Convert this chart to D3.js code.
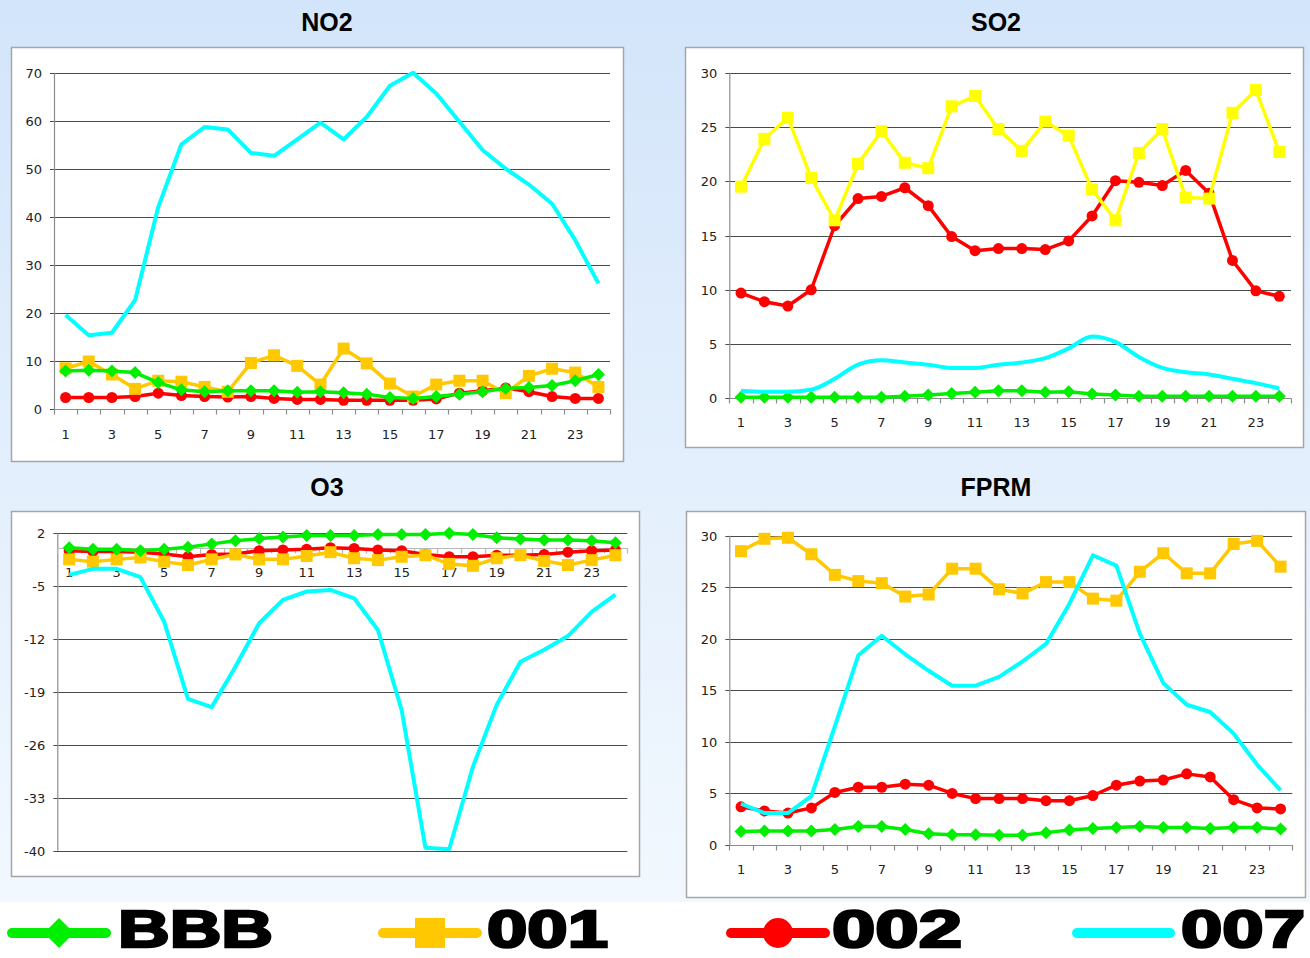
<!DOCTYPE html>
<html>
<head>
<meta charset="utf-8">
<script src="https://cdn.jsdelivr.net/npm/d3@7"></script>
<style>
  html, body { margin: 0; padding: 0; background: #fff; }
  svg { display: block; }
</style>
</head>
<body>
<svg id="chart" width="1310" height="958"></svg>
<script>
// Hourly categories shared by all four panels
const hours = [1,2,3,4,5,6,7,8,9,10,11,12,13,14,15,16,17,18,19,20,21,22,23,24];
const hourLabels = [1,3,5,7,9,11,13,15,17,19,21,23];

// NO2
const no2_BBB = [7.9,8.1,7.9,7.6,5.5,4.0,3.6,3.8,3.8,3.8,3.5,3.6,3.4,3.1,2.4,2.2,2.6,3.1,3.6,4.3,4.5,4.9,5.9,7.2];
const no2_001 = [8.5,9.9,7.2,4.2,5.9,5.7,4.6,3.6,9.6,11.2,9.0,5.1,12.6,9.5,5.3,2.6,5.1,5.9,5.9,3.3,6.9,8.4,7.6,4.6];
const no2_002 = [2.4,2.4,2.4,2.6,3.3,2.8,2.6,2.5,2.6,2.2,2.0,2.0,1.8,1.8,1.8,1.8,2.1,3.3,3.8,4.4,3.6,2.6,2.2,2.2];
const no2_007 = [19.6,15.4,15.9,22.7,42.1,55.2,58.8,58.3,53.4,52.8,56.2,59.7,56.2,60.9,67.4,70.1,65.8,59.9,54.0,50.1,46.8,42.8,35.2,26.2];
const no2_ticks = [0,10,20,30,40,50,60,70];

// SO2
const so2_BBB = [0.1,0.1,0.1,0.1,0.1,0.1,0.1,0.2,0.3,0.45,0.55,0.7,0.7,0.55,0.6,0.4,0.3,0.2,0.2,0.2,0.2,0.2,0.2,0.2];
const so2_001 = [19.5,23.9,25.85,20.3,16.4,21.6,24.6,21.7,21.2,26.9,27.85,24.8,22.8,25.5,24.2,19.25,16.4,22.6,24.8,18.5,18.4,26.3,28.4,22.7];
const so2_002 = [9.7,8.9,8.5,10.0,15.9,18.4,18.6,19.4,17.75,14.9,13.6,13.8,13.8,13.7,14.5,16.8,20.05,19.9,19.6,21.0,18.9,12.7,9.9,9.4];
const so2_007 = [0.7,0.6,0.6,0.8,1.8,3.1,3.5,3.3,3.1,2.8,2.8,3.1,3.3,3.7,4.6,5.7,5.2,3.8,2.8,2.4,2.2,1.8,1.4,0.9];
const so2_ticks = [0,5,10,15,20,25,30];

// O3
const o3_BBB = [0.1,-0.1,-0.1,-0.3,-0.1,0.15,0.6,1.0,1.3,1.5,1.7,1.7,1.7,1.85,1.85,1.85,2.0,1.85,1.4,1.25,1.1,1.1,1.0,0.75];
const o3_001 = [-1.45,-1.75,-1.45,-1.2,-1.75,-2.2,-1.45,-0.8,-1.45,-1.45,-1.0,-0.5,-1.3,-1.55,-1.1,-0.9,-2.05,-2.3,-1.3,-0.9,-1.65,-2.2,-1.55,-0.9];
const o3_002 = [-0.3,-0.4,-0.4,-0.5,-0.75,-1.1,-0.8,-0.75,-0.3,-0.2,-0.1,0.1,0.0,-0.2,-0.3,-0.8,-1.1,-1.1,-0.9,-0.9,-0.8,-0.5,-0.3,-0.2];
const o3_007 = [-3.5,-2.7,-2.7,-3.8,-9.7,-19.9,-21.0,-15.65,-9.9,-6.8,-5.7,-5.5,-6.6,-10.8,-21.4,-39.6,-39.8,-28.9,-20.7,-15.0,-13.4,-11.6,-8.4,-6.1];
const o3_ticks = [2,-5,-12,-19,-26,-33,-40];

// FPRM
const fprm_BBB = [1.3,1.35,1.35,1.35,1.5,1.8,1.8,1.5,1.1,1.0,1.0,0.95,0.95,1.2,1.45,1.6,1.7,1.8,1.7,1.7,1.6,1.7,1.7,1.55];
const fprm_001 = [28.5,29.7,29.8,28.2,26.2,25.6,25.4,24.1,24.3,26.8,26.8,24.8,24.4,25.5,25.5,23.9,23.7,26.5,28.3,26.35,26.35,29.2,29.5,27.0];
const fprm_002 = [3.7,3.3,3.1,3.6,5.1,5.6,5.6,5.9,5.8,5.0,4.5,4.5,4.5,4.3,4.3,4.8,5.8,6.2,6.3,6.9,6.6,4.4,3.6,3.5];
const fprm_007 = [4.0,3.1,3.1,4.75,11.5,18.4,20.3,18.5,16.9,15.45,15.45,16.3,17.8,19.5,23.4,28.1,27.1,20.5,15.7,13.6,12.9,10.8,7.8,5.3];
const fprm_ticks = [0,5,10,15,20,25,30];

// Series names and colours
const seriesNames = ["BBB", "001", "002", "007"];
const colors = { BBB: "#00ee00", "001": "#ffc800", "002": "#ff0000", "007": "#00ffff" };
const so2Yellow = "#ffff00";

const svg = d3.select("#chart");

// Background: pale blue wash, white strip under the legend
const defs = svg.append("defs");
const grad = defs.append("linearGradient").attr("id", "bg").attr("x1", 0).attr("y1", 0).attr("x2", 0).attr("y2", 1);
grad.append("stop").attr("offset", "0%").attr("stop-color", "#d3e5fa");
grad.append("stop").attr("offset", "100%").attr("stop-color", "#f2f8fe");
svg.append("rect").attr("width", 1310).attr("height", 902).attr("fill", "url(#bg)");
svg.append("rect").attr("y", 902).attr("width", 1310).attr("height", 56).attr("fill", "#ffffff");

// Marker shapes
function markerPath(kind, s) {
  const h = s / 2;
  if (kind === "diamond") return `M0,${-h}L${h},0L0,${h}L${-h},0Z`;
  if (kind === "square") return `M${-h},${-h}H${h}V${h}H${-h}Z`;
  if (kind === "circle") return `M${-h},0A${h},${h} 0 1,0 ${h},0A${h},${h} 0 1,0 ${-h},0Z`;
  return null;
}
const markerKind = { BBB: "diamond", "001": "square", "002": "circle", "007": null };
const markerSize = { BBB: 13, "001": 12, "002": 11 };

const panels = [
  { title: "NO2", tx: 327, ty: 31, box: [11, 47, 623, 461], px: [54, 610], py: [409, 73.3],
    domain: [0, 70], ticks: no2_ticks, axisAt: 0, labelY: 439,
    data: { BBB: no2_BBB, "001": no2_001, "002": no2_002, "007": no2_007 } },
  { title: "SO2", tx: 996, ty: 31, box: [685, 47, 1303, 447], px: [729.3, 1291], py: [398.3, 72.7],
    domain: [0, 30], ticks: so2_ticks, axisAt: 0, labelY: 427, smooth007: true, yellow001: true,
    data: { BBB: so2_BBB, "001": so2_001, "002": so2_002, "007": so2_007 } },
  { title: "O3", tx: 327, ty: 496, box: [11, 511, 639, 876], px: [57.3, 627.3], py: [850.7, 533.3],
    domain: [-40, 2], ticks: o3_ticks, axisAt: 0, labelY: 577, lightAxis: true,
    data: { BBB: o3_BBB, "001": o3_001, "002": o3_002, "007": o3_007 } },
  { title: "FPRM", tx: 996, ty: 496, box: [686, 511, 1305, 897], px: [729.3, 1292.3], py: [845, 535.7],
    domain: [0, 30], ticks: fprm_ticks, axisAt: 0, labelY: 874,
    data: { BBB: fprm_BBB, "001": fprm_001, "002": fprm_002, "007": fprm_007 } }
];

const labelFont = "'DejaVu Sans', Verdana, sans-serif";

panels.forEach(p => {
  const g = svg.append("g");
  // title
  g.append("text").attr("x", p.tx).attr("y", p.ty).attr("text-anchor", "middle")
    .attr("font-family", "'Liberation Sans', Arial, sans-serif").attr("font-weight", "bold")
    .attr("font-size", 25).attr("fill", "#000").text(p.title);
  // frame
  const [bx0, by0, bx1, by1] = p.box;
  g.append("rect").attr("x", bx0 + 0.5).attr("y", by0 + 0.5).attr("width", bx1 - bx0).attr("height", by1 - by0)
    .attr("fill", "#fff").attr("stroke", "#a6a6a6").attr("stroke-width", 1.5);

  const x = d3.scaleBand().domain(hours).range(p.px).paddingInner(0).paddingOuter(0);
  const y = d3.scaleLinear().domain(p.domain).range(p.py);
  const cx = h => x(h) + x.bandwidth() / 2;

  // horizontal gridlines
  g.append("g").selectAll("line").data(p.ticks).join("line")
    .attr("x1", p.px[0] - 4).attr("x2", p.px[1])
    .attr("y1", d => Math.round(y(d)) + 0.5).attr("y2", d => Math.round(y(d)) + 0.5)
    .attr("stroke", "#4a4a4a").attr("stroke-width", 1.2);

  // y axis line and labels
  g.append("line").attr("x1", p.px[0] + 0.5).attr("x2", p.px[0] + 0.5)
    .attr("y1", y(p.domain[1])).attr("y2", y(p.domain[0])).attr("stroke", "#8c8c8c").attr("stroke-width", 1.2);
  g.append("g").selectAll("text").data(p.ticks).join("text")
    .attr("x", p.px[0] - 12).attr("y", d => y(d) + 5).attr("text-anchor", "end")
    .attr("font-family", labelFont).attr("font-size", 13).attr("fill", "#222").text(d => d);

  // x axis with tick marks at category boundaries
  const ax = Math.round(y(p.axisAt)) + 0.5;
  const axisColor = p.lightAxis ? "#b8b8b8" : "#8c8c8c";
  g.append("line").attr("x1", p.px[0]).attr("x2", p.px[1] + 0.5).attr("y1", ax).attr("y2", ax)
    .attr("stroke", axisColor).attr("stroke-width", 1.2);
  const bounds = hours.map(h => x(h)).concat([p.px[1]]);
  g.append("g").selectAll("line").data(bounds).join("line")
    .attr("x1", d => Math.round(d) + 0.5).attr("x2", d => Math.round(d) + 0.5)
    .attr("y1", ax).attr("y2", ax + 5).attr("stroke", axisColor).attr("stroke-width", 1.2);
  g.append("g").selectAll("text").data(hourLabels).join("text")
    .attr("x", d => cx(d)).attr("y", p.labelY).attr("text-anchor", "middle")
    .attr("font-family", labelFont).attr("font-size", 13).attr("fill", "#222").text(d => d);

  // series: 002, 001, BBB under the 007 line
  ["002", "001", "BBB", "007"].forEach(name => {
    const vals = p.data[name];
    const col = (name === "001" && p.yellow001) ? so2Yellow : colors[name];
    const line = d3.line().x((d, i) => cx(hours[i])).y(d => y(d))
      .curve(name === "007" && p.smooth007 ? d3.curveMonotoneX : d3.curveLinear);
    g.append("path").attr("d", line(vals)).attr("fill", "none").attr("stroke", col)
      .attr("stroke-width", name === "007" ? 4 : 3.5).attr("stroke-linejoin", "round");
    const kind = markerKind[name];
    if (kind) {
      g.append("g").selectAll("path").data(vals).join("path")
        .attr("transform", (d, i) => `translate(${cx(hours[i])},${y(d)})`)
        .attr("d", markerPath(kind, markerSize[name])).attr("fill", col);
    }
  });
});

// Legend along the bottom
const legendItems = [
  { name: "BBB", x0: 12, x1: 106, tx: 118, tw: 155 },
  { name: "001", x0: 383, x1: 477, tx: 487, tw: 121 },
  { name: "002", x0: 731, x1: 825, tx: 832, tw: 130 },
  { name: "007", x0: 1077, x1: 1170, tx: 1181, tw: 124 }
];
const leg = svg.append("g");
legendItems.forEach(it => {
  const col = colors[it.name];
  const ly = 933;
  leg.append("line").attr("x1", it.x0).attr("x2", it.x1).attr("y1", ly).attr("y2", ly)
    .attr("stroke", col).attr("stroke-width", 10).attr("stroke-linecap", "round");
  const kind = markerKind[it.name];
  if (kind) {
    leg.append("path").attr("transform", `translate(${(it.x0 + it.x1) / 2},${ly})`)
      .attr("d", markerPath(kind, 30)).attr("fill", col);
  }
  leg.append("text").attr("x", it.tx).attr("y", 947)
    .attr("font-family", "'Liberation Sans', Arial, sans-serif").attr("font-weight", "bold")
    .attr("font-size", 52).attr("fill", "#000").attr("stroke", "#000").attr("stroke-width", 2.5)
    .attr("textLength", it.tw).attr("lengthAdjust", "spacingAndGlyphs").text(it.name);
});
</script>
</body>
</html>
